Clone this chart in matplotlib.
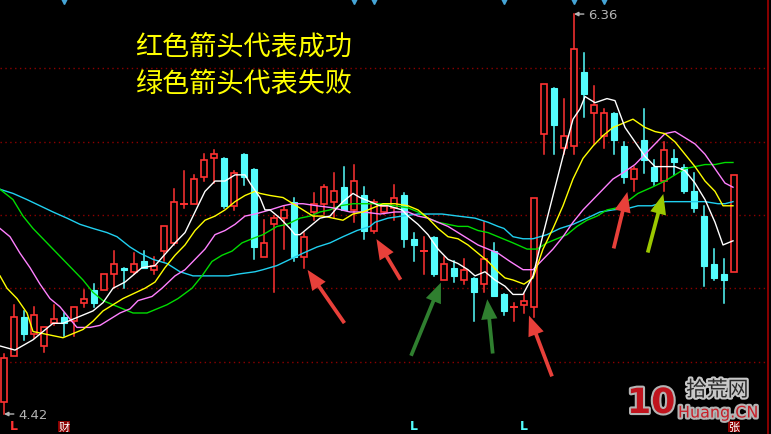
import matplotlib
matplotlib.use("Agg")
import matplotlib.pyplot as plt
from matplotlib.patches import Rectangle, FancyArrowPatch
import matplotlib.patheffects as pe

plt.rcParams['font.family'] = ['Noto Sans CJK SC', 'DejaVu Sans']

# K线数据 (开, 高, 低, 收)
opens = [4.48, 4.70, 4.89, 4.81, 4.75, 4.86, 4.89, 4.87, 4.96, 5.02,
         5.02, 5.10, 5.13, 5.11, 5.16, 5.12, 5.21, 5.25, 5.43, 5.44,
         5.57, 5.66, 5.66, 5.43, 5.68, 5.61, 5.18, 5.34, 5.37, 5.45,
         5.18, 5.40, 5.44, 5.45, 5.52, 5.41, 5.48, 5.31, 5.40, 5.42,
         5.48, 5.27, 5.20, 5.28, 5.07, 5.13, 5.07, 5.08, 5.05, 5.21,
         5.00, 4.94, 4.95, 4.94, 5.78, 6.00, 5.71, 5.72, 6.08, 5.88,
         5.77, 5.88, 5.72, 5.56, 5.75, 5.62, 5.55, 5.66, 5.62, 5.50,
         5.38, 5.15, 5.10, 5.11]
highs = [4.71, 4.95, 4.92, 4.94, 4.84, 4.95, 4.91, 4.94, 5.02, 5.05,
         5.10, 5.21, 5.13, 5.20, 5.21, 5.18, 5.33, 5.51, 5.60, 5.58,
         5.68, 5.70, 5.66, 5.60, 5.68, 5.61, 5.36, 5.38, 5.43, 5.47,
         5.30, 5.49, 5.53, 5.59, 5.62, 5.63, 5.52, 5.46, 5.44, 5.53,
         5.49, 5.30, 5.28, 5.28, 5.18, 5.16, 5.17, 5.08, 5.35, 5.25,
         5.00, 4.96, 5.00, 5.47, 6.02, 6.00, 5.95, 6.36, 6.17, 6.01,
         5.90, 5.88, 5.74, 5.62, 5.90, 5.65, 5.74, 5.70, 5.63, 5.59,
         5.43, 5.22, 5.17, 5.58]
lows = [4.42, 4.70, 4.78, 4.79, 4.72, 4.85, 4.80, 4.80, 4.94, 4.94,
        5.02, 5.03, 5.03, 5.10, 5.13, 5.10, 5.16, 5.24, 5.42, 5.44,
        5.55, 5.54, 5.42, 5.41, 5.53, 5.17, 5.18, 5.01, 5.22, 5.16,
        5.13, 5.36, 5.39, 5.37, 5.41, 5.35, 5.27, 5.30, 5.39, 5.36,
        5.23, 5.16, 5.10, 5.09, 5.07, 5.06, 5.05, 4.87, 5.01, 4.99,
        4.90, 4.87, 4.91, 4.89, 5.68, 5.68, 5.68, 5.68, 5.86, 5.73,
        5.71, 5.68, 5.54, 5.50, 5.59, 5.53, 5.50, 5.58, 5.49, 5.40,
        5.04, 5.07, 4.96, 5.11]
closes = [4.69, 4.89, 4.81, 4.90, 4.84, 4.88, 4.86, 4.94, 4.98, 4.96,
          5.10, 5.15, 5.12, 5.15, 5.13, 5.14, 5.33, 5.45, 5.44, 5.56,
          5.65, 5.68, 5.43, 5.59, 5.57, 5.23, 5.25, 5.37, 5.41, 5.18,
          5.28, 5.44, 5.52, 5.50, 5.41, 5.55, 5.31, 5.45, 5.43, 5.47,
          5.27, 5.24, 5.21, 5.10, 5.15, 5.09, 5.12, 5.01, 5.17, 4.99,
          4.92, 4.94, 4.97, 5.47, 6.02, 5.82, 5.77, 6.19, 5.97, 5.92,
          5.88, 5.75, 5.57, 5.61, 5.65, 5.55, 5.70, 5.64, 5.50, 5.42,
          5.14, 5.08, 5.07, 5.58]

# 均线 (读图采样点: K线序号, 价格)
ma5_x = [-0.4, 1.1, 2.9, 3.9, 4.9, 5.9, 6.9, 7.9, 8.9, 9.9, 10.9, 12.1, 13.8, 15.1,
         17.1, 18.1, 19.1, 20.1, 21.1, 22.1, 23.1, 24.1, 24.6, 25.6, 26.1, 26.6, 27.6,
         28.6, 29.1, 29.6, 30.6, 31.6, 32.6, 33.3, 33.9, 34.9, 35.6, 36.6, 37.6, 38.4,
         39.8, 40.4, 41.4, 42.4, 43.4, 44.4, 45.4, 46.4, 47.1, 48.1, 49.1, 50.1, 50.9,
         51.9, 52.9, 53.9, 54.9, 55.9, 56.9, 57.6, 58.1, 59.1, 60.3, 61.1, 62.1, 63.1,
         64.1, 65.1, 67.1, 68.1, 69.1, 70.1, 71.1, 71.9, 72.9]
ma5_y = [4.75, 4.73, 4.78, 4.82, 4.86, 4.86, 4.88, 4.90, 4.92, 4.96, 5.03, 5.06, 5.13, 5.14,
         5.25, 5.30, 5.40, 5.50, 5.55, 5.55, 5.58, 5.58, 5.54, 5.47, 5.41, 5.41, 5.37,
         5.32, 5.29, 5.29, 5.33, 5.37, 5.38, 5.42, 5.45, 5.49, 5.47, 5.45, 5.43, 5.43,
         5.41, 5.38, 5.34, 5.29, 5.22, 5.17, 5.15, 5.12, 5.09, 5.11, 5.07, 5.04, 5.00,
         5.00, 5.09, 5.29, 5.48, 5.67, 5.85, 5.90, 5.96, 5.93, 5.95, 5.94, 5.81, 5.74,
         5.67, 5.62, 5.62, 5.60, 5.54, 5.46, 5.35, 5.24, 5.26]

ma10_x = [-0.4, 0.3, 1.3, 2.3, 2.9, 3.9, 4.9, 5.9, 6.9, 7.9, 8.9, 9.9, 10.9, 11.9, 14.1,
          15.1, 16.1, 17.1, 18.1, 19.1, 20.1, 21.1, 22.1, 23.1, 24.1, 25.1, 25.6, 26.6,
          27.9, 28.9, 29.9, 30.9, 31.9, 32.9, 33.9, 34.9, 35.9, 36.9, 37.9, 39.1, 40.4,
          41.4, 42.4, 43.4, 44.4, 45.4, 46.4, 47.4, 48.4, 49.4, 50.1, 50.9, 52.0, 52.9,
          53.9, 54.9, 55.9, 56.9, 57.9, 58.9, 59.9, 60.9, 61.9, 62.9, 64.1, 65.1, 66.1,
          67.1, 68.1, 69.1, 70.1, 71.1, 71.9, 72.9]
ma10_y = [5.09, 5.03, 4.98, 4.91, 4.82, 4.81, 4.80, 4.79, 4.81, 4.83, 4.87, 4.92, 4.95, 4.98, 5.03,
          5.06, 5.13, 5.19, 5.24, 5.31, 5.36, 5.38, 5.41, 5.45, 5.48, 5.50, 5.49, 5.48,
          5.47, 5.44, 5.41, 5.38, 5.38, 5.37, 5.36, 5.39, 5.40, 5.42, 5.44, 5.44, 5.43,
          5.41, 5.37, 5.32, 5.28, 5.27, 5.24, 5.20, 5.16, 5.11, 5.08, 5.07, 5.05, 5.08,
          5.22, 5.32, 5.43, 5.56, 5.66, 5.72, 5.77, 5.81, 5.83, 5.85, 5.81, 5.79, 5.78,
          5.74, 5.68, 5.62, 5.55, 5.50, 5.43, 5.43]

ma20_x = [-0.4, 0.6, 1.6, 2.6, 3.6, 4.6, 5.6, 6.6, 7.3, 8.6, 9.6, 10.6, 11.6, 12.6, 13.4,
          14.8, 15.8, 17.1, 18.1, 19.1, 20.1, 21.1, 22.1, 23.1, 24.1, 25.1, 26.6, 27.9,
          28.9, 29.9, 31.3, 32.9, 34.6, 35.9, 37.6, 39.1, 40.4, 41.4, 42.4, 43.4, 44.4,
          45.4, 46.4, 47.4, 48.4, 49.4, 50.6, 51.9, 52.9, 53.9, 54.9, 55.9, 56.9, 57.9,
          58.9, 59.9, 60.9, 61.9, 63.1, 64.1, 65.1, 66.1, 67.1, 68.1, 69.1, 70.1, 71.1,
          72.1, 72.9]
ma20_y = [5.32, 5.28, 5.20, 5.13, 5.05, 4.98, 4.94, 4.88, 4.84, 4.84, 4.85, 4.88, 4.91, 4.93, 4.97,
          4.99, 5.03, 5.09, 5.12, 5.17, 5.22, 5.29, 5.31, 5.34, 5.38, 5.39, 5.41, 5.43,
          5.44, 5.44, 5.43, 5.42, 5.40, 5.40, 5.39, 5.40, 5.40, 5.38, 5.37, 5.35, 5.33,
          5.30, 5.27, 5.24, 5.22, 5.20, 5.16, 5.12, 5.12, 5.17, 5.22, 5.28, 5.35, 5.41,
          5.46, 5.51, 5.56, 5.59, 5.63, 5.68, 5.73, 5.78, 5.79, 5.76, 5.73, 5.68, 5.61,
          5.54, 5.52]

ma30_x = [-0.4, 0.9, 1.9, 2.9, 3.9, 4.9, 5.9, 6.9, 7.9, 8.9, 9.9, 10.9, 11.9, 12.9, 14.3,
          15.3, 16.3, 17.4, 18.8, 19.8, 20.8, 21.8, 22.8, 23.8, 24.8, 25.9, 27.3, 28.3,
          29.6, 30.6, 31.6, 32.6, 33.6, 34.9, 36.3, 37.6, 39.1, 40.4, 41.4, 42.4, 43.4,
          44.4, 45.4, 46.4, 47.4, 48.4, 49.4, 50.9, 52.3, 53.3, 54.3, 55.3, 56.3, 57.3,
          58.3, 59.3, 60.3, 61.3, 62.3, 63.4, 64.8, 66.1, 67.1, 68.1, 69.1, 70.1, 71.1,
          72.1, 72.9]
ma30_y = [5.51, 5.46, 5.38, 5.32, 5.27, 5.22, 5.17, 5.12, 5.07, 5.01, 4.97, 4.95, 4.93, 4.91, 4.91,
          4.93, 4.95, 4.98, 5.03, 5.09, 5.16, 5.19, 5.21, 5.25, 5.27, 5.29, 5.33, 5.34,
          5.37, 5.38, 5.40, 5.41, 5.43, 5.44, 5.44, 5.44, 5.43, 5.42, 5.40, 5.37, 5.35,
          5.34, 5.33, 5.33, 5.31, 5.30, 5.28, 5.25, 5.22, 5.22, 5.25, 5.27, 5.29, 5.33,
          5.36, 5.38, 5.41, 5.42, 5.45, 5.49, 5.52, 5.55, 5.58, 5.61, 5.62, 5.63, 5.63,
          5.64, 5.64]

ma60_x = [-0.4, 0.9, 2.3, 3.6, 4.9, 6.3, 7.6, 8.9, 10.3, 11.3, 12.6, 13.6, 14.9, 16.3,
          17.6, 18.9, 20.6, 22.4, 23.6, 25.1, 25.9, 27.3, 28.6, 29.9, 31.3, 32.6, 33.9,
          35.3, 36.6, 37.1, 38.4, 39.8, 41.4, 43.8, 45.4, 47.1, 48.4, 49.4, 50.0, 50.9,
          51.9, 52.9, 54.3, 55.6, 56.9, 58.3, 59.6, 60.9, 62.6, 63.4, 64.8, 66.1, 67.4,
          68.8, 70.1, 71.4, 72.1, 72.9]
ma60_y = [5.51, 5.49, 5.46, 5.43, 5.40, 5.37, 5.34, 5.32, 5.30, 5.28, 5.23, 5.20, 5.17, 5.15,
          5.11, 5.09, 5.09, 5.09, 5.10, 5.11, 5.12, 5.14, 5.17, 5.20, 5.23, 5.25, 5.28,
          5.31, 5.33, 5.35, 5.37, 5.38, 5.39, 5.39, 5.38, 5.37, 5.35, 5.33, 5.32, 5.28,
          5.27, 5.27, 5.29, 5.32, 5.34, 5.37, 5.40, 5.41, 5.42, 5.43, 5.43, 5.45, 5.45,
          5.45, 5.45, 5.44, 5.44, 5.45]

grid_prices = [6.10, 5.74, 5.385, 5.03, 4.67]

# 箭头 (起点 -> 箭头尖, 序号/价格)
arrows = [
    ((34.2, 4.85), (30.2, 5.13), '#e8403a'),
    ((39.8, 5.06), (37.1, 5.28), '#e8403a'),
    ((40.6, 4.69), (43.8, 5.07), '#2f7f2f'),
    ((48.9, 4.70), (48.3, 4.99), '#2f7f2f'),
    ((54.9, 4.59), (52.4, 4.91), '#e8403a'),
    ((60.9, 5.21), (62.4, 5.51), '#e8403a'),
    ((64.3, 5.19), (66.0, 5.50), '#9cc800'),
]

top_marks = [6, 35, 37, 50, 57, 60]
bottom_labels = [(1, 'L', '#ff3232'), (41, 'L', '#54fcfc'), (52, 'L', '#54fcfc')]
box_labels = [(6, '财'), (73, '张')]

up_color = '#ff3232'
down_color = '#54fcfc'

fig = plt.figure(figsize=(7.71, 4.35), dpi=100, facecolor='black')
ax = fig.add_axes([0, 0, 1, 1])
ax.set_facecolor('black')
ax.set_xlim(-0.4, 76.7)
ax.set_ylim(4.323, 6.433)
ax.axis('off')

# 网格线
for p in grid_prices:
    ax.plot([-0.4, 76.4], [p, p], color='#8c0000', lw=1, linestyle=(0, (1, 2.5)), zorder=1)
ax.axvline(76.4, color='#a00000', lw=1.2)

# K线
w = 0.6
for i in range(len(opens)):
    o, h, l, c = opens[i], highs[i], lows[i], closes[i]
    top, bot = max(o, c), min(o, c)
    if c >= o:
        if top - bot < 0.012:
            ax.plot([i, i], [l, h], color=up_color, lw=1.1, zorder=3)
            ax.plot([i - w / 2, i + w / 2], [c, c], color=up_color, lw=1.4, zorder=3)
            continue
        ax.plot([i, i], [top, h], color=up_color, lw=1.1, zorder=3)
        ax.plot([i, i], [l, bot], color=up_color, lw=1.1, zorder=3)
        ax.add_patch(Rectangle((i - w / 2, bot), w, top - bot, facecolor='black',
                               edgecolor=up_color, lw=1.2, zorder=3))
    else:
        ax.plot([i, i], [l, h], color=down_color, lw=1.1, zorder=3)
        ax.add_patch(Rectangle((i - w / 2, bot), w, max(top - bot, 0.006), facecolor=down_color,
                               edgecolor=down_color, lw=0.8, zorder=3))

# 均线
ax.plot(ma60_x, ma60_y, color='#20d0f0', lw=1, zorder=4)
ax.plot(ma30_x, ma30_y, color='#00dc00', lw=1, zorder=4)
ax.plot(ma20_x, ma20_y, color='#ff80ff', lw=1, zorder=4)
ax.plot(ma10_x, ma10_y, color='#ffff00', lw=1, zorder=4)
ax.plot(ma5_x, ma5_y, color='#ffffff', lw=1, zorder=4)

# 最高最低价标注
imax = highs.index(max(highs))
imin = lows.index(min(lows))
ax.annotate(f'{max(highs):.2f}', xy=(imax, max(highs)), xytext=(imax + 1.4, max(highs)),
            color='#b4b4b4', fontsize=9.5, va='center', family='DejaVu Sans',
            arrowprops=dict(arrowstyle='-|>', color='#b4b4b4', lw=1, shrinkA=1, shrinkB=0,
                            mutation_scale=6))
ax.annotate(f'{min(lows):.2f}', xy=(imin, min(lows)), xytext=(imin + 1.4, min(lows)),
            color='#b4b4b4', fontsize=9.5, va='center', family='DejaVu Sans',
            arrowprops=dict(arrowstyle='-|>', color='#b4b4b4', lw=1, shrinkA=1, shrinkB=0,
                            mutation_scale=6))

# 箭头
for (x0, y0), (x1, y1), col in arrows:
    ax.add_patch(FancyArrowPatch((x0, y0), (x1, y1),
                                 arrowstyle='simple,head_width=1.3,head_length=1.6,tail_width=0.3',
                                 mutation_scale=9, color=col, lw=0, zorder=6))

# 顶部/底部标记
for i in top_marks:
    ax.plot(i, 6.425, marker='v', color='#46a6d8', markersize=4.5, zorder=5, clip_on=False)
for i, t, col in bottom_labels:
    ax.text(i, 4.335, t, color=col, fontsize=9, fontweight='bold', ha='center', va='bottom',
            family='DejaVu Sans')
for i, t in box_labels:
    ax.text(i, 4.333, t, color='white', fontsize=8, ha='center', va='bottom',
            bbox=dict(boxstyle='square,pad=0.05', fc='#8b0000', ec='none'))

# 文字说明
fig.text(135 / 771, 1 - 48 / 435, '红色箭头代表成功', color='#ffff00', fontsize=19.5,
         ha='left', va='center')
fig.text(135 / 771, 1 - 85 / 435, '绿色箭头代表失败', color='#ffff00', fontsize=19.5,
         ha='left', va='center')

# 水印
stroke = [pe.withStroke(linewidth=3, foreground='#b4b4b4')]
fig.text(627 / 771, 1 - 404 / 435, '10', color='#c0141e', fontsize=25, fontweight='bold',
         ha='left', va='center', family='DejaVu Sans', path_effects=stroke)
fig.text(686 / 771, 1 - 391 / 435, '拾荒网', color='#2a2a2a', fontsize=15,
         ha='left', va='center', path_effects=[pe.withStroke(linewidth=3, foreground='#c8c8c8')])
fig.text(678 / 771, 1 - 414 / 435, 'Huang.CN', color='#c81e28', fontsize=11.5,
         ha='left', va='center', family='DejaVu Sans', path_effects=stroke)

fig.savefig('out.png', dpi=100, facecolor='black')
